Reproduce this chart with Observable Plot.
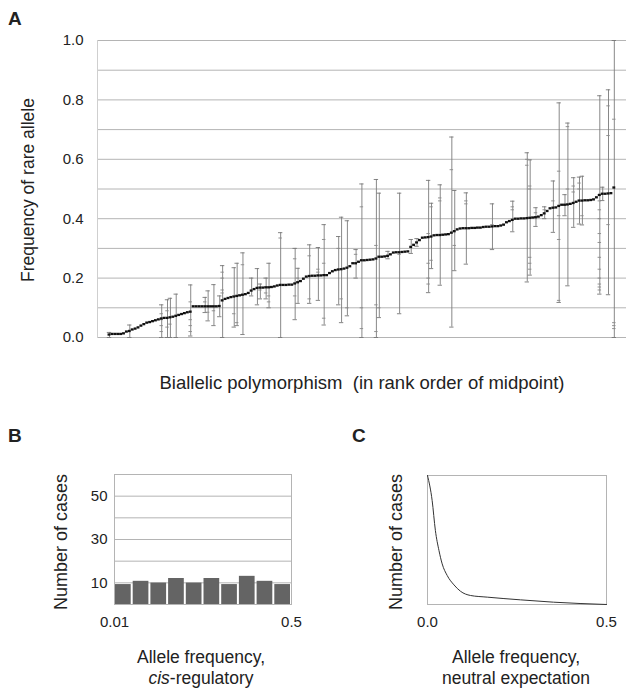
<!DOCTYPE html>
<html>
<head>
<meta charset="utf-8">
<script src="https://cdn.jsdelivr.net/npm/d3@7"></script>
<script src="https://cdn.jsdelivr.net/npm/@observablehq/plot@0.6"></script>
<style>
  html, body { margin: 0; padding: 0; background: #fff; }
  #wrap { position: relative; width: 626px; height: 690px; overflow: hidden; font-family: "Liberation Sans", Arial, Helvetica, sans-serif; }
  #wrap > div, #wrap > svg { position: absolute; }
</style>
</head>
<body>
<div id="wrap">
  <div id="pa" style="left:0;top:0"></div>
  <div id="pb" style="left:0;top:460px"></div>
  <div id="pc" style="left:313px;top:460px"></div>
  <svg id="labels" width="626" height="690" style="left:0;top:0;pointer-events:none"></svg>
</div>
<script>
// ---------- Panel A data ----------
// midpoint frequency of each biallelic polymorphism, in rank order
const midpoint = [
0.010,0.012,0.012,0.012,0.012,0.014,0.020,0.022,0.027,0.030,
0.034,0.040,0.045,0.050,0.052,0.055,0.058,0.061,0.064,0.066,
0.066,0.068,0.070,0.073,0.076,0.079,0.082,0.085,0.087,0.105,
0.105,0.105,0.105,0.105,0.105,0.105,0.105,0.105,0.106,0.125,
0.130,0.133,0.136,0.138,0.140,0.142,0.144,0.146,0.150,0.158,
0.163,0.167,0.168,0.168,0.169,0.169,0.170,0.172,0.175,0.177,
0.177,0.177,0.178,0.178,0.182,0.186,0.190,0.198,0.205,0.207,
0.208,0.208,0.209,0.209,0.210,0.210,0.217,0.223,0.227,0.229,
0.230,0.232,0.235,0.240,0.250,0.250,0.255,0.260,0.260,0.261,
0.262,0.263,0.266,0.272,0.272,0.273,0.275,0.280,0.286,0.287,
0.287,0.288,0.289,0.290,0.305,0.312,0.320,0.328,0.336,0.337,
0.338,0.340,0.344,0.345,0.345,0.346,0.347,0.348,0.353,0.358,
0.364,0.367,0.368,0.368,0.368,0.369,0.369,0.370,0.370,0.372,
0.373,0.373,0.374,0.375,0.375,0.377,0.380,0.388,0.392,0.396,
0.400,0.400,0.401,0.401,0.402,0.403,0.404,0.405,0.407,0.412,
0.418,0.426,0.435,0.437,0.438,0.443,0.447,0.447,0.448,0.450,
0.453,0.457,0.461,0.461,0.462,0.462,0.463,0.465,0.472,0.480,
0.484,0.484,0.485,0.486,0.505];

// error bars: rank, lowest estimate, highest estimate, other estimates
const barRank = [1,8,19,21,22,24,29,34,35,37,39,40,44,45,47,50,52,53,55,56,60,65,66,70,73,75,80,81,83,86,88,93,94,97,101,105,107,111,112,115,119,120,124,133,140,145,146,148,151,154,156,158,159,161,163,164,170,171,173,175];
const barLow  = [0,0,0,0,0,0,0.005,0.084,0.056,0.04,0.07,0,0.035,0.04,0.01,0.14,0.11,0.13,0.13,0.1,0,0.06,0.115,0.115,0.125,0.042,0.11,0.05,0.073,0.2,0,0,0.067,0.265,0.08,0.283,0.307,0.151,0.232,0.176,0.035,0.225,0.247,0.296,0.356,0.187,0.21,0.374,0.4,0.354,0.118,0.41,0.174,0.371,0.382,0.379,0.146,0.461,0.144,0];
const barHigh = [0.017,0.042,0.11,0.127,0.132,0.146,0.177,0.135,0.157,0.178,0.14,0.242,0.235,0.25,0.285,0.2,0.232,0.18,0.2,0.25,0.353,0.3,0.233,0.312,0.303,0.38,0.34,0.405,0.393,0.296,0.517,0.532,0.486,0.29,0.486,0.33,0.333,0.529,0.452,0.514,0.675,0.495,0.487,0.45,0.459,0.622,0.598,0.437,0.44,0.527,0.79,0.481,0.722,0.538,0.54,0.543,0.814,0.506,0.834,1.0];
const barOther = [[],[],[0.02,0.04,0.06,0.08],[0.035,0.09],[0.045],[],[0.02,0.04,0.06,0.12],[0.12],[0.085],[0.09],[],[0.22,0.2,0.16,0.15],[0.08],[0.05],[0.245],[],[],[0.16],[0.15],[0.12,0.14],[0.335],[0.265,0.14],[0.2],[0.275,0.13],[0.23,0.22],[0.33,0.25,0.065],[0.3],[0.13],[0.1],[0.28],[0.03,0.1,0.44],[0.31,0.02,0.11],[0.1],[],[0.28],[],[],[0.35,0.25,0.2,0.18],[0.44,0.26],[0.47,0.46],[0.565],[0.31],[0.46,0.45],[0.38],[0.44,0.43],[0.6,0.58],[0.27,0.25,0.23,0.5,0.51],[0.42],[0.43],[0.46],[0.56,0.41,0.33,0.125],[],[0.71,0.5],[0.51,0.49],[0.52,0.5],[0.41],[0.48,0.46,0.43,0.4,0.35,0.32,0.27,0.23,0.2,0.18,0.17,0.16],[],[0.78,0.68,0.38],[0.735,0.05,0.04,0.03]];

const aGridTicks = [0,0.1,0.2,0.3,0.4,0.5,0.6,0.7,0.8,0.9,1.0];
const aTickLabels = [0,0.2,0.4,0.6,0.8,1.0];

// ---------- Panel B data ----------
const bCounts = [9.2,10.7,9.9,12,9.9,12,9.2,13,10.7,9.2];
const bXTicks = [0.01, 0.5];
const bYTicks = [10, 30, 50];
const bGrid = [10, 20, 30, 40, 50];

// ---------- Panel C data ----------
const cFreq  = [0, 0.013, 0.022, 0.032, 0.041, 0.055, 0.074, 0.092, 0.12, 0.167, 0.26, 0.352, 0.5];
const cCases = [1.0, 0.806, 0.574, 0.419, 0.315, 0.225, 0.152, 0.103, 0.07, 0.057, 0.036, 0.018, 0.0];
const cXTicks = [0, 0.5];

const font = "Liberation Sans, Arial, Helvetica, sans-serif";

// ---------- Panel A ----------
const points = midpoint.map((m, i) => ({rank: i + 1, mid: m}));
const bars = barRank.map((r, k) => ({rank: r, low: barLow[k], high: barHigh[k]}));
const caps = bars.flatMap(b => [{rank: b.rank, v: b.low}, {rank: b.rank, v: b.high}]);
const others = barRank.flatMap((r, k) => barOther[k].map(v => ({rank: r, v})));

const plotA = Plot.plot({
  width: 626, height: 350,
  marginLeft: 97, marginRight: 0, marginTop: 40, marginBottom: 13,
  style: {fontFamily: font, fontSize: "15px", color: "#222", background: "white"},
  x: {domain: [-3.13, 179.2], axis: null},
  y: {domain: [0, 1]},
  marks: [
    Plot.gridY(aGridTicks, {stroke: "#b4b4b4", strokeOpacity: 1}),
    Plot.frame({anchor: "left", stroke: "#cfcfcf"}),
    Plot.ruleX(bars, {x: "rank", y1: "low", y2: "high", stroke: "#7a7a7a", strokeWidth: 0.9}),
    Plot.ruleY(caps, {y: "v", x1: d => d.rank - 0.75, x2: d => d.rank + 0.75, stroke: "#777", strokeWidth: 0.9}),
    Plot.ruleY(others, {y: "v", x1: d => d.rank - 0.6, x2: d => d.rank + 0.6, stroke: "#888", strokeWidth: 0.9}),
    Plot.ruleY(points, {y: "mid", x1: d => d.rank - 0.5, x2: d => d.rank + 0.5, stroke: "#111", strokeWidth: 2.3}),
    Plot.axisY(aTickLabels, {tickFormat: d3.format(".1f"), tickSize: 0, tickPadding: 14, label: null, fontSize: 15})
  ]
});
document.getElementById("pa").appendChild(plotA);

// ---------- Panel B ----------
const bStep = (bXTicks[1] - bXTicks[0]) / bCounts.length;
const bBins = bCounts.map((c, i) => ({x1: bXTicks[0] + i * bStep, x2: bXTicks[0] + (i + 1) * bStep, count: c}));
const plotB = Plot.plot({
  width: 313, height: 170,
  marginLeft: 114, marginRight: 22, marginTop: 14, marginBottom: 26,
  style: {fontFamily: font, fontSize: "15px", color: "#222", background: "white"},
  x: {domain: bXTicks},
  y: {domain: [0, 60]},
  marks: [
    Plot.gridY(bGrid, {stroke: "#b4b4b4", strokeOpacity: 1}),
    Plot.rectY(bBins, {x1: "x1", x2: "x2", y: "count", fill: "#646464", insetLeft: 1, insetRight: 1}),
    Plot.frame({stroke: "#b4b4b4"}),
    Plot.axisY(bYTicks, {tickSize: 0, tickPadding: 7, label: null, fontSize: 15}),
    Plot.axisX(bXTicks, {tickSize: 0, tickPadding: 12, label: null, fontSize: 15, tickFormat: d => String(d)})
  ]
});
document.getElementById("pb").appendChild(plotB);

// ---------- Panel C ----------
const cData = cFreq.map((f, i) => ({f, n: cCases[i]}));
const plotC = Plot.plot({
  width: 313, height: 170,
  marginLeft: 114, marginRight: 20, marginTop: 15, marginBottom: 26,
  style: {fontFamily: font, fontSize: "15px", color: "#222", background: "white"},
  x: {domain: [0, 0.5]},
  y: {domain: [0, 1], axis: null},
  marks: [
    Plot.frame({stroke: "#b4b4b4"}),
    Plot.line(cData, {x: "f", y: "n", curve: "monotone-x", stroke: "#333", strokeWidth: 1}),
    Plot.axisX(cXTicks, {tickSize: 0, tickPadding: 12, label: null, fontSize: 15, tickFormat: d3.format(".1f")})
  ]
});
document.getElementById("pc").appendChild(plotC);

// ---------- Text labels ----------
const svg = d3.select("#labels").style("font-family", font).style("fill", "#222");
function label(x, y, text, opts = {}) {
  const t = svg.append("text").attr("x", x).attr("y", y)
    .attr("font-size", opts.size || 18)
    .attr("text-anchor", opts.anchor || "middle")
    .attr("font-weight", opts.bold ? "bold" : null);
  if (opts.rotate) t.attr("transform", `rotate(-90 ${x} ${y})`);
  if (opts.parts) opts.parts.forEach(p => t.append("tspan").attr("font-style", p.italic ? "italic" : null).text(p.t));
  else t.text(text);
  return t;
}
label(8, 25, "A", {anchor: "start", bold: true, size: 19});
label(8, 442, "B", {anchor: "start", bold: true, size: 19});
label(352, 442, "C", {anchor: "start", bold: true, size: 19});

label(34, 190, "Frequency of rare allele", {rotate: true, size: 17.5});
label(362, 389, "Biallelic polymorphism\u00a0\u00a0(in rank order of midpoint)", {size: 18.5});

label(67, 542, "Number of cases", {rotate: true, size: 18});
label(201, 663, "Allele frequency,", {size: 17.5});
label(201, 684, null, {size: 17.5, parts: [{t: "cis", italic: true}, {t: "-regulatory"}]});

label(402, 542, "Number of cases", {rotate: true, size: 18});
label(516, 663, "Allele frequency,", {size: 17.5});
label(516, 684, "neutral expectation", {size: 17.5});
</script>
</body>
</html>
